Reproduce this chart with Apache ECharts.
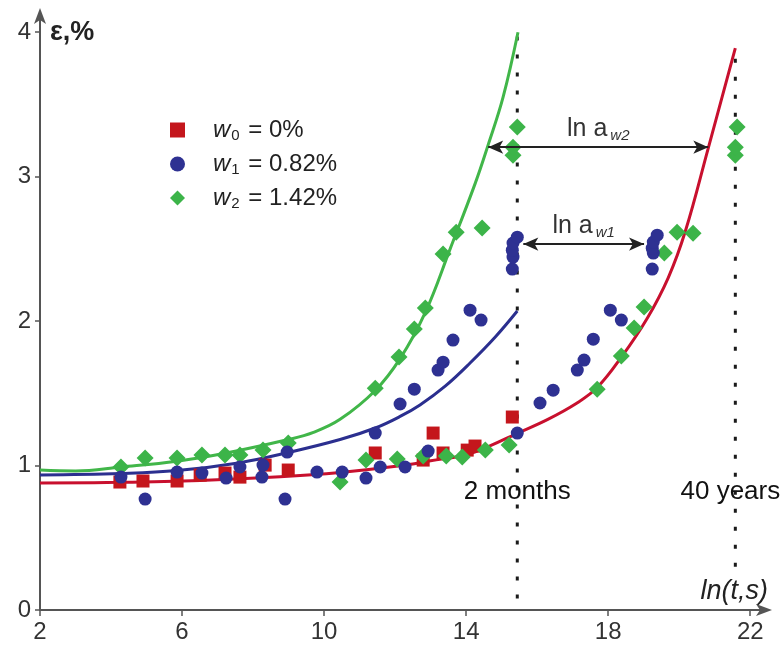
<!DOCTYPE html>
<html><head><meta charset="utf-8">
<script src="https://cdn.jsdelivr.net/npm/echarts@6/dist/echarts.min.js"></script>
<style>html,body{margin:0;padding:0;background:#fff}#c{width:784px;height:648px}</style>
</head><body><div id="c"></div>
<script>
// ---- data ----
const xTicks = [2, 6, 10, 14, 18, 22];
const yTicks = [0, 1, 2, 3, 4];
const seriesNames = ['w0 = 0%', 'w1 = 0.82%', 'w2 = 1.42%'];

const w0X = [4.25, 4.90, 5.86, 6.51, 7.21, 7.63, 8.34, 8.99, 11.44, 12.79, 13.07, 13.35, 14.03, 14.25, 15.30];
const w0Y = [0.886, 0.893, 0.893, 0.934, 0.948, 0.920, 1.003, 0.969, 1.087, 1.038, 1.225, 1.087, 1.107, 1.135, 1.336];

const w1X = [4.28, 4.96, 5.86, 6.56, 7.24, 7.63, 8.25, 8.28, 8.96, 8.90, 9.80, 10.51, 11.18, 11.58, 11.44, 12.28, 12.14, 12.54, 12.93, 13.21, 13.35, 13.63, 14.11, 14.42, 15.44, 15.30, 15.32, 15.30, 15.32, 15.44, 16.08, 16.45, 17.13, 17.32, 17.58, 18.06, 18.37, 19.24, 19.27, 19.24, 19.27, 19.38];
const w1Y = [0.920, 0.768, 0.955, 0.948, 0.913, 0.990, 0.920, 1.003, 1.093, 0.768, 0.955, 0.955, 0.913, 0.990, 1.225, 0.990, 1.426, 1.529, 1.100, 1.661, 1.716, 1.869, 2.076, 2.007, 1.225, 2.360, 2.443, 2.491, 2.540, 2.581, 1.433, 1.522, 1.661, 1.730, 1.875, 2.076, 2.007, 2.360, 2.471, 2.505, 2.547, 2.595];

const w2X = [4.28, 4.96, 5.86, 6.56, 7.21, 7.63, 8.28, 8.99, 10.45, 11.18, 12.06, 12.79, 13.44, 13.89, 14.54, 15.21, 11.44, 12.11, 12.54, 12.85, 13.35, 13.72, 14.45, 15.32, 15.32, 15.44, 17.69, 18.37, 18.73, 19.01, 19.58, 19.94, 20.39, 21.58, 21.58, 21.63];
const w2Y = [0.990, 1.052, 1.052, 1.073, 1.073, 1.073, 1.107, 1.156, 0.886, 1.038, 1.045, 1.066, 1.066, 1.059, 1.107, 1.142, 1.536, 1.751, 1.945, 2.090, 2.464, 2.616, 2.644, 3.149, 3.204, 3.343, 1.529, 1.758, 1.952, 2.097, 2.471, 2.616, 2.609, 3.149, 3.204, 3.343];

// fitted curves
const fit0X = [2.0, 4.25, 6.51, 8.76, 10.45, 12.14, 13.0, 14.0, 14.7, 15.41, 16.3, 17.1, 17.69, 18.37, 19.10, 19.69, 20.17, 20.82, 21.58];
const fit0Y = [0.879, 0.884, 0.897, 0.922, 0.952, 0.998, 1.033, 1.075, 1.14, 1.22, 1.32, 1.43, 1.54, 1.75, 2.02, 2.30, 2.62, 3.20, 3.89];
const fit1X = [2.0, 4.28, 5.86, 7.63, 8.99, 10.45, 11.44, 12.14, 12.70, 13.41, 14.11, 14.82, 15.44];
const fit1Y = [0.935, 0.945, 0.965, 1.02, 1.09, 1.18, 1.26, 1.34, 1.42, 1.55, 1.71, 1.89, 2.07];
const fit2X = [2.0, 3.0, 4.28, 5.86, 7.21, 8.99, 9.7, 10.45, 11.44, 12.14, 12.85, 13.55, 14.25, 14.62, 15.04, 15.46];
const fit2Y = [0.969, 0.963, 0.99, 1.03, 1.085, 1.18, 1.23, 1.32, 1.52, 1.74, 2.06, 2.50, 2.95, 3.22, 3.55, 4.0];

// reference time lines
const refX = [15.44, 21.58];
const refYFrom = [0.08, 0.30];
const refYTo = [4.0, 3.82];
const refLabels = ['2 months', '40 years'];
const refLabelX = [15.44, 21.44];
const refLabelY = [0.82, 0.82];

// shift arrows
const shiftSub = ['w2', 'w1'];
const shiftFrom = [14.62, 15.61];
const shiftTo = [20.82, 19.01];
const shiftY = [3.204, 2.533];

// ---- chart ----
const RED = '#c4161c', BLUE = '#2e3192', GREEN = '#3cb449';
const LRED = '#c8102e', LBLUE = '#2b2f8f', LGREEN = '#41b649';
const FONT = '"Liberation Sans", Arial, sans-serif';
const zip = (a, b) => a.map((v, i) => [v, b[i]]);

const chart = echarts.init(document.getElementById('c'), null, {renderer: 'canvas'});

const refSeries = refX.map((x, i) => ({
  type: 'line', silent: true, symbol: 'none', z: 1,
  data: [[x, refYFrom[i]], [x, refYTo[i]]],
  lineStyle: {color: '#1a1a1a', width: 3, type: [4, 14]}
}));

const option = {
  animation: false,
  backgroundColor: '#fff',
  grid: {left: 40, right: 16, top: 12, bottom: 38},
  xAxis: {
    type: 'value', min: 2, max: 22.5,
    axisLine: {show: true, lineStyle: {color: '#555', width: 2}, symbol: ['none', 'arrow'], symbolSize: [9, 16], symbolOffset: [0, 4]},
    axisTick: {show: true, length: 6, lineStyle: {color: '#555', width: 1.5}, customValues: xTicks},
    axisLabel: {customValues: xTicks, fontSize: 24, color: '#333', fontFamily: FONT, margin: 10},
    splitLine: {show: false}
  },
  yAxis: {
    type: 'value', min: 0, max: 4.14,
    axisLine: {show: true, lineStyle: {color: '#555', width: 2}, symbol: ['none', 'arrow'], symbolSize: [9, 16], symbolOffset: [0, 4]},
    axisTick: {show: true, length: 5, lineStyle: {color: '#555', width: 1.5}, customValues: yTicks},
    axisLabel: {customValues: yTicks, fontSize: 24, color: '#333', fontFamily: FONT, margin: 9},
    splitLine: {show: false}
  },
  legend: {
    orient: 'vertical', left: 165, top: 113,
    itemWidth: 15, itemHeight: 15, itemGap: 9,
    data: seriesNames,
    formatter: function (name) {
      const m = name.match(/^w(\d) = (.*)$/);
      return '{w|w}{n|' + m[1] + '}{r| = ' + m[2] + '}';
    },
    textStyle: {
      fontFamily: FONT, color: '#222',
      rich: {
        w: {fontSize: 24, fontStyle: 'italic', fontFamily: FONT, color: '#222', padding: [0, 0, 0, 23], lineHeight: 26},
        n: {fontSize: 15, fontFamily: FONT, color: '#222', verticalAlign: 'bottom', lineHeight: 15, padding: [0, 2, 0, 1]},
        r: {fontSize: 24, fontFamily: FONT, color: '#222', lineHeight: 26}
      }
    }
  },
  graphic: [
    {type: 'text', left: 50, top: 19, style: {text: 'ε,%', fontSize: 27, fontFamily: FONT, fill: '#222', fontWeight: 'bold'}},
    {type: 'text', right: 16, top: 578, style: {text: 'ln(t,s)', fontSize: 27, fontFamily: FONT, fill: '#222', fontStyle: 'italic'}}
  ],
  series: [
    ...refSeries,
    {type: 'line', name: 'fit0', silent: true, symbol: 'none', smooth: 0.4, z: 2,
      data: zip(fit0X, fit0Y), lineStyle: {color: LRED, width: 3}},
    {type: 'line', name: 'fit1', silent: true, symbol: 'none', smooth: 0.4, z: 2,
      data: zip(fit1X, fit1Y), lineStyle: {color: LBLUE, width: 3}},
    {type: 'line', name: 'fit2', silent: true, symbol: 'none', smooth: 0.4, z: 2,
      data: zip(fit2X, fit2Y), lineStyle: {color: LGREEN, width: 3}},
    {type: 'scatter', name: seriesNames[0], symbol: 'rect', symbolSize: 13, z: 3,
      data: zip(w0X, w0Y), itemStyle: {color: RED, opacity: 1}},
    {type: 'scatter', name: seriesNames[2], symbol: 'diamond', symbolSize: 17, z: 3,
      data: zip(w2X, w2Y), itemStyle: {color: GREEN, opacity: 1}},
    {type: 'scatter', name: seriesNames[1], symbol: 'circle', symbolSize: 13, z: 4,
      data: zip(w1X, w1Y), itemStyle: {color: BLUE, opacity: 1}},
    {type: 'scatter', name: 'labels', silent: true, symbolSize: 1, z: 5,
      itemStyle: {color: 'rgba(0,0,0,0)'},
      data: zip(refLabelX, refLabelY),
      label: {show: true, position: 'inside', formatter: p => refLabels[p.dataIndex],
        fontSize: 26, fontFamily: FONT, color: '#111', textBorderWidth: 0, textBorderColor: 'transparent', opacity: 1}},
    {type: 'line', name: 'arrows', silent: true, symbol: 'none', data: [], z: 5,
      markLine: {
        silent: true, symbol: ['arrow', 'arrow'], symbolSize: [10, 15],
        lineStyle: {color: '#222', width: 2, type: 'solid'},
        label: {show: true, position: 'middle', distance: 4,
          formatter: p => '{t|ln a}{s|' + shiftSub[p.dataIndex] + '}',
          rich: {
            t: {fontSize: 25, fontFamily: FONT, color: '#333', lineHeight: 28},
            s: {fontSize: 15, fontFamily: FONT, fontStyle: 'italic', color: '#333', verticalAlign: 'bottom', lineHeight: 15, padding: [0, 0, 0, 3]}
          }},
        data: shiftY.map((y, i) => [{coord: [shiftFrom[i], y]}, {coord: [shiftTo[i], y]}])
      }}
  ]
};
chart.setOption(option);
</script></body></html>
